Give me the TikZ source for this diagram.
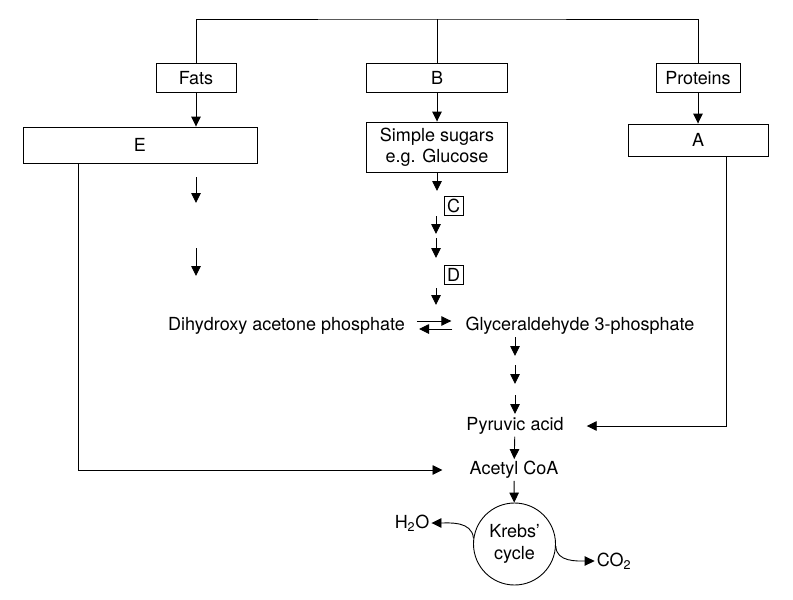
\documentclass[tikz,border=0pt]{standalone}
\usepackage{fontspec}
\setmainfont{TeX Gyre Heros}
\usetikzlibrary{arrows.meta, positioning, calc}
\tikzset{
    txt/.style={
        font=\fontsize{18}{21.5}\selectfont,
        inner sep=2pt
    },
    block/.style={
        txt,
        rectangle,
        draw=black,
        line width=0.9pt,
        minimum height=29pt,
        fill=white
    },
    tag/.style={
        txt,
        rectangle,
        draw=black,
        line width=0.9pt,
        inner sep=1pt,
        minimum size=19pt
    },
    krebsring/.style={
        txt,
        circle,
        draw=black,
        line width=0.9pt,
        minimum size=82pt,
        inner sep=0pt,
        align=center
    },
    flow/.style={
        draw=black,
        line width=0.9pt,
        -{Triangle[width=9.5pt,length=10pt]}
    },
    link/.style={
        draw=black,
        line width=0.9pt
    }
}

\begin{document}
\begin{tikzpicture}[x=1pt, y=-1pt]
\useasboundingbox (0,0) rectangle (793,600);

% Food sources (top row)
\node[block, minimum width=80pt] (fats) at (196,78) {Fats};
\node[block, minimum width=141pt] (carbs) at (437,78) {B};
\node[block, minimum width=84pt] (proteins) at (698,78) {Proteins};
\coordinate (top) at (437,19);

% Breakdown products
\node[block, minimum width=234pt, minimum height=36pt] (E) at (140,145) {E};
\node[block, minimum width=141pt, minimum height=50pt, align=center] (sugars) at (437,147) {Simple sugars\\e.g. Glucose};
\node[block, minimum width=140pt, minimum height=32pt] (A) at (698,140) {A};

% Glycolysis steps
\node[tag] (C) at (453.5,205.5) {C};
\node[tag] (D) at (453.5,274.5) {D};
\node[txt] (dhap) at (286.5,326) {Dihydroxy acetone phosphate};
\node[txt] (g3p) at (580,326) {Glyceraldehyde 3-phosphate};
\node[txt] (pyruvic) at (515,426) {Pyruvic acid};
\node[txt] (acetyl) at (514,470) {Acetyl CoA};

% Krebs cycle and products
\node[krebsring] (krebs) at (514.5,544) {Krebs'\\cycle};
\node[txt] (water) at (412,523) {H\textsubscript{2}O};
\node[txt] (co2) at (614,561) {CO\textsubscript{2}};

% Top bracket
\draw[link] (fats.north) |- (top) -| (proteins.north);
\draw[link] (carbs.north) -- (top);

% Sources to products
\draw[flow] (fats.south) -- (fats.south |- E.north);
\draw[flow] (carbs) -- (sugars);
\draw[flow] (proteins) -- (A);

% Fat pathway steps
\foreach \ya/\yb [count=\i] in {177/203, 248/276} {
    \coordinate (fa\i) at (196,\ya);
    \coordinate (fb\i) at (196,\yb);
    \draw[flow] (fa\i) -- (fb\i);
}

% Sugar pathway steps
\foreach \ya/\yb [count=\i] in {216/234, 238/258, 288/305} {
    \coordinate (sa\i) at (436,\ya);
    \coordinate (sb\i) at (436,\yb);
    \draw[flow] (sa\i) -- (sb\i);
}
\coordinate (s0) at (437,191);
\draw[flow] (sugars.south) -- (s0);

% Equilibrium
\draw[flow] ([xshift=10pt,yshift=5pt]dhap.east) -- ([xshift=-12pt,yshift=5pt]g3p.west);
\draw[flow] ([xshift=-11pt,yshift=-3pt]g3p.west) -- ([xshift=12pt,yshift=-3pt]dhap.east);

% Down to pyruvate
\foreach \ya [count=\i] in {337, 365, 395} {
    \coordinate (ga\i) at (515,\ya);
    \coordinate (gb\i) at (515,\ya+19);
    \draw[flow] (ga\i) -- (gb\i);
}
\draw[flow] ([xshift=28pt]A.south) |- ([xshift=21pt]pyruvic.east);
\draw[flow] (pyruvic) -- (acetyl);
\draw[flow] ([xshift=-62pt]E.south) |- ([xshift=-25pt]acetyl.west);
\draw[flow] (acetyl) -- (krebs);

% Cycle outputs
\draw[flow] (krebs.172) to[out=95,in=0] (water.east);
\draw[flow] (krebs.-3) to[out=-90,in=180] (co2.west);

\end{tikzpicture}
\end{document}
